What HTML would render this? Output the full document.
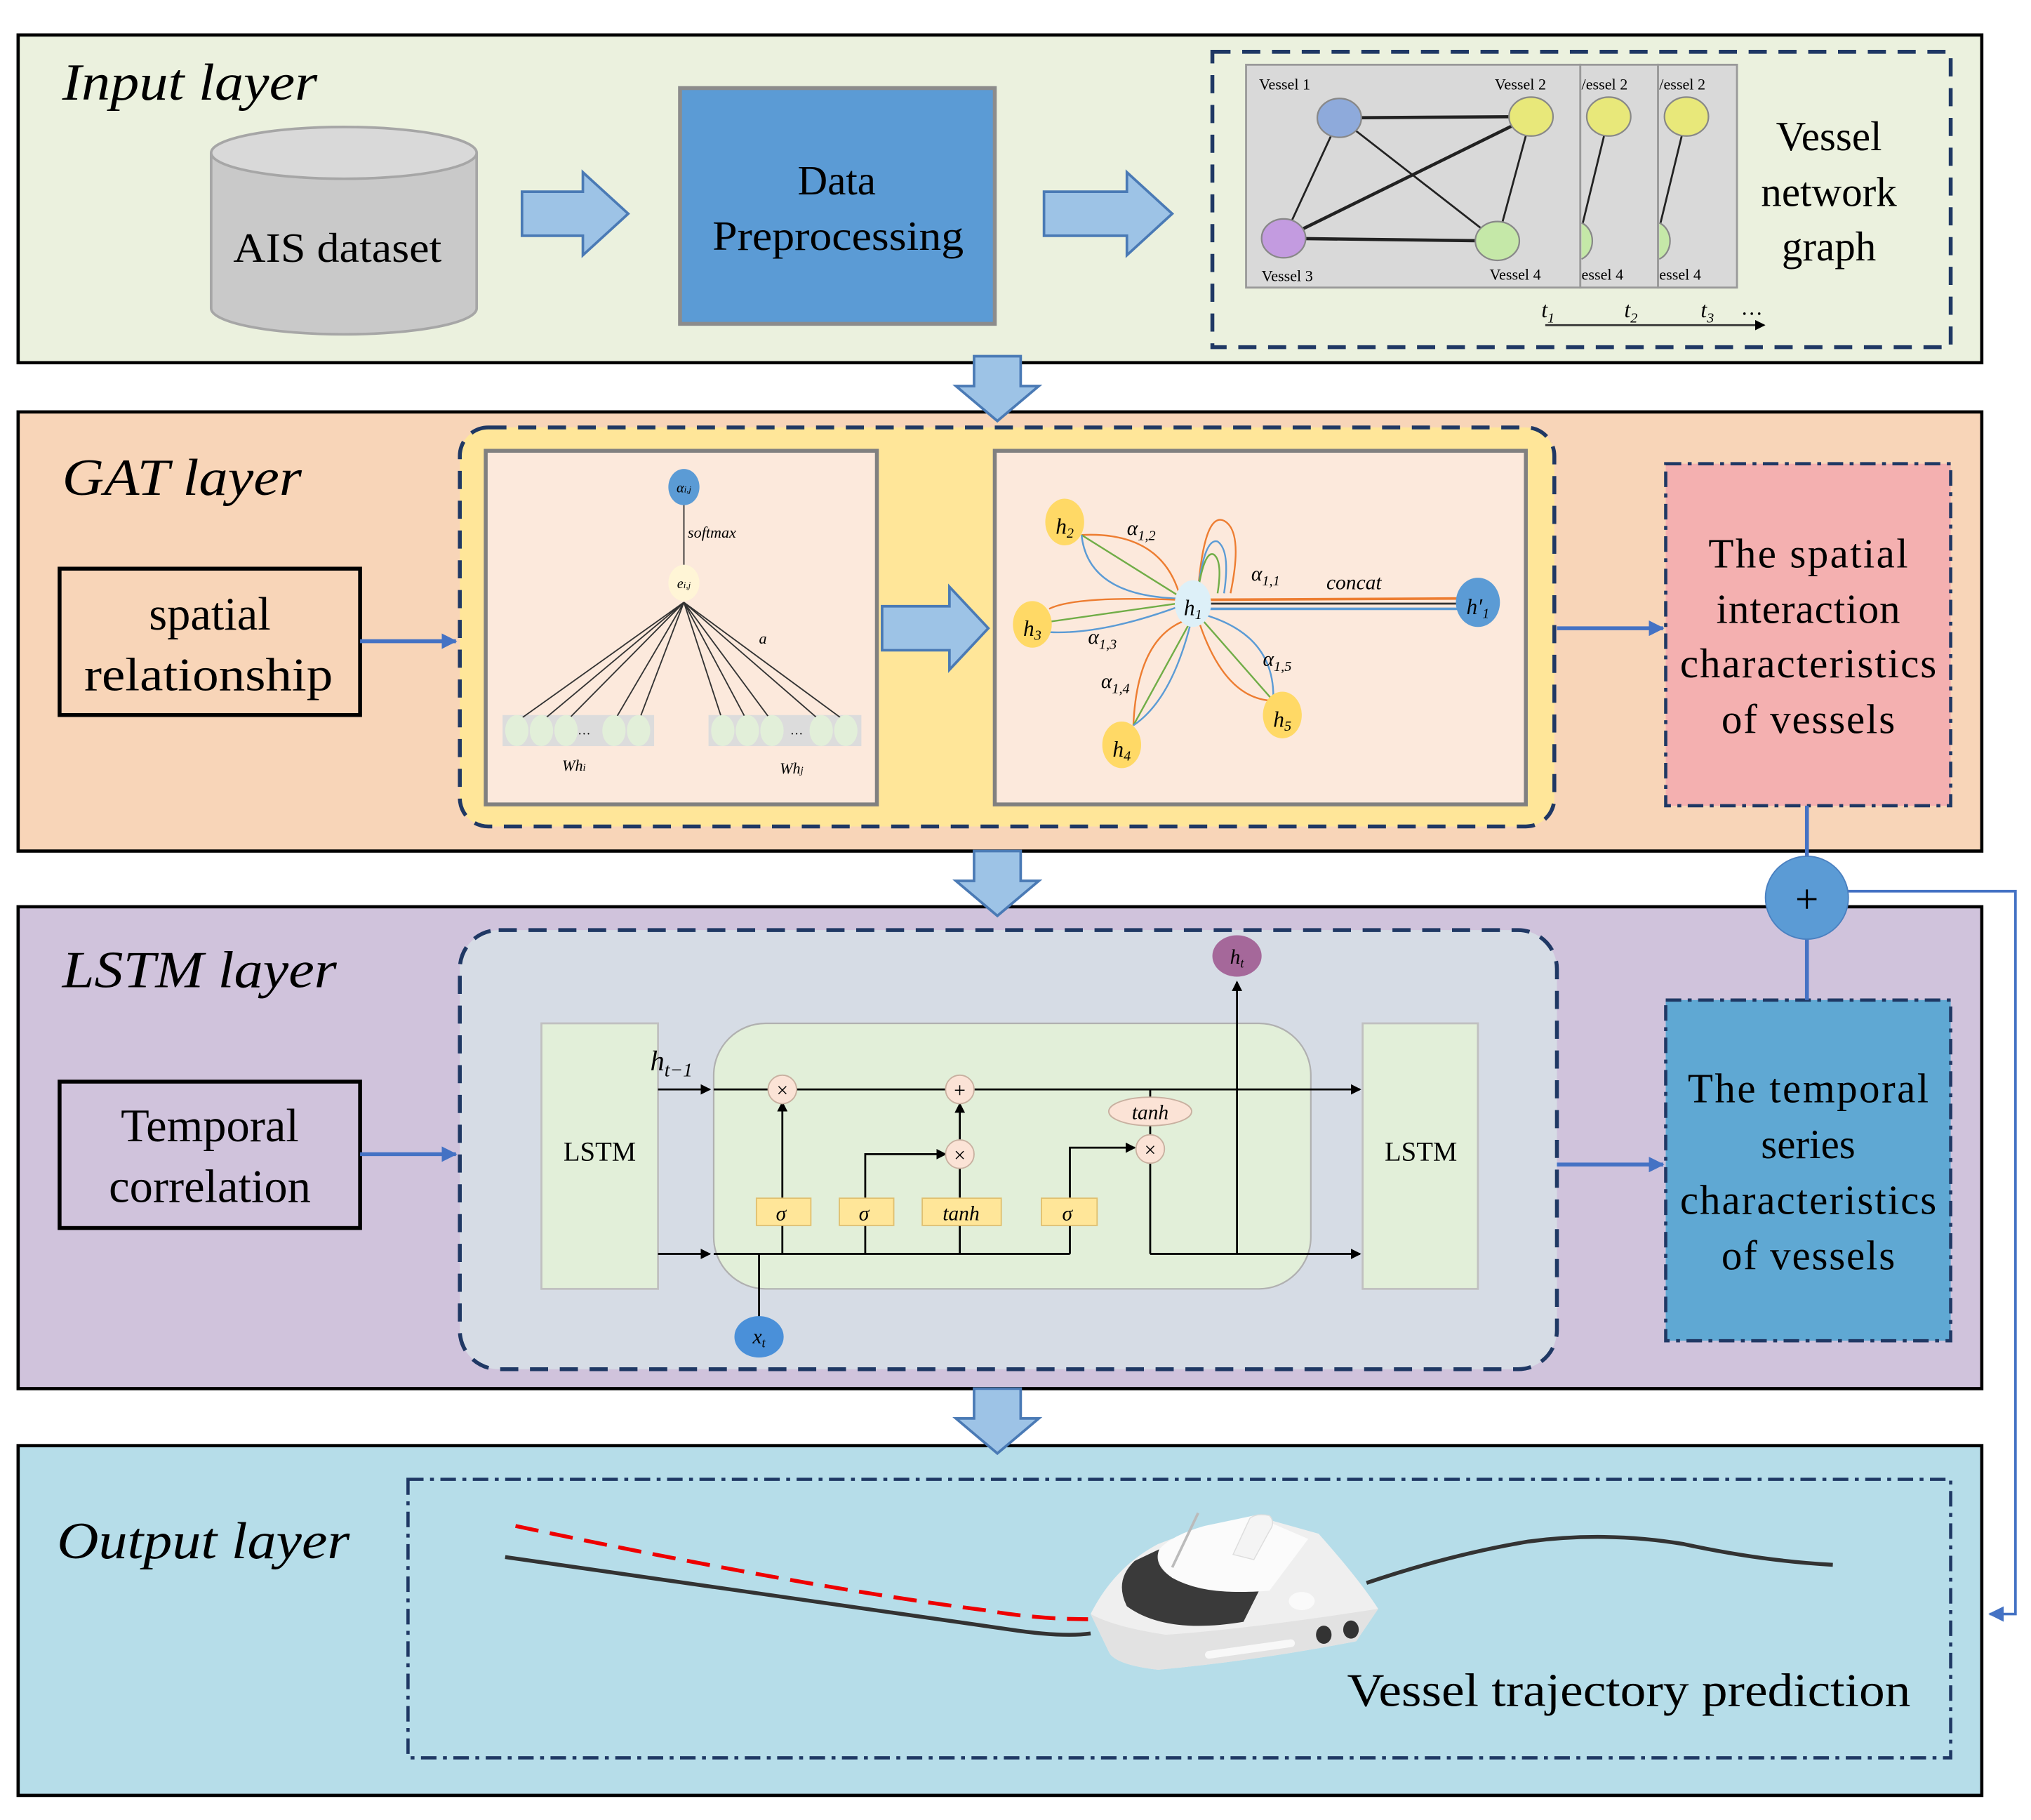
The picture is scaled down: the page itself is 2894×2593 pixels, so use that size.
<!DOCTYPE html>
<html><head><meta charset="utf-8"><style>
html,body{margin:0;padding:0;background:#fff;}
svg{display:block;}
text{font-family:"Liberation Serif",serif;fill:#000;}
.it{font-style:italic;}
</style></head><body>
<svg width="2894" height="2593" viewBox="0 0 1568 1405" preserveAspectRatio="none" xmlns="http://www.w3.org/2000/svg">
<defs>
<marker id="ah" markerWidth="8" markerHeight="8" refX="7" refY="4" orient="auto" markerUnits="userSpaceOnUse"><path d="M0,0 L8,4 L0,8 z" fill="#000"/></marker>
<marker id="ahb" markerWidth="12" markerHeight="12" refX="11" refY="6" orient="auto" markerUnits="userSpaceOnUse"><path d="M0,0 L12,6 L0,12 z" fill="#4472c4"/></marker>
</defs>
<rect width="1568" height="1405" fill="#fff"/>

<!-- INPUT LAYER -->
<rect x="14" y="27" width="1516" height="253" fill="#ebf1de" stroke="#000" stroke-width="2.5"/>
<text x="48" y="77" font-size="40" class="it" textLength="197" lengthAdjust="spacingAndGlyphs">Input layer</text>
<path d="M163,118 L163,238 A102,20 0 0 0 368,238 L368,118" fill="#c9c9c9" stroke="#a6a6a6" stroke-width="2"/>
<ellipse cx="265.5" cy="118" rx="102.5" ry="20" fill="#d9d9d9" stroke="#a6a6a6" stroke-width="2"/>
<text x="180" y="202" font-size="32" textLength="161" lengthAdjust="spacingAndGlyphs">AIS dataset</text>
<path d="M403,148 L450,148 L450,133 L485,165 L450,197 L450,182 L403,182 Z" fill="#9dc3e6" stroke="#4a7ab5" stroke-width="2"/>
<rect x="525" y="68" width="243" height="182" fill="#5b9bd5" stroke="#8c8c8c" stroke-width="3"/>
<text x="646" y="150" font-size="32" text-anchor="middle">Data</text>
<text x="550" y="193" font-size="32" textLength="194" lengthAdjust="spacingAndGlyphs">Preprocessing</text>
<path d="M806,148 L870,148 L870,133 L905,165 L870,197 L870,182 L806,182 Z" fill="#9dc3e6" stroke="#4a7ab5" stroke-width="2"/>
<rect x="936" y="40" width="570" height="228" fill="none" stroke="#1f3864" stroke-width="3" stroke-dasharray="14,9"/>
<rect x="1280" y="50" width="61" height="172" fill="#d9d9d9" stroke="#999" stroke-width="1.5"/>
<rect x="1220" y="50" width="60" height="172" fill="#d9d9d9" stroke="#999" stroke-width="1.5"/>
<rect x="962" y="50" width="258" height="172" fill="#d9d9d9" stroke="#999" stroke-width="1.5"/>
<g stroke="#222" stroke-width="1.5">
<line x1="1034" y1="91" x2="1182" y2="90" stroke-width="2.5"/>
<line x1="1034" y1="91" x2="991" y2="184"/>
<line x1="1034" y1="91" x2="1156" y2="186"/>
<line x1="991" y1="184" x2="1182" y2="90" stroke-width="2.5"/>
<line x1="1182" y1="90" x2="1156" y2="186"/>
<line x1="991" y1="184" x2="1156" y2="186" stroke-width="2.5"/>
<line x1="1242" y1="90" x2="1222" y2="172"/>
<line x1="1302" y1="90" x2="1282" y2="172"/>
</g>
<g stroke="#888" stroke-width="1.2">
<ellipse cx="1034" cy="91" rx="17" ry="15" fill="#8eaadb"/>
<ellipse cx="1182" cy="90" rx="17" ry="15" fill="#e8e87a"/>
<ellipse cx="991" cy="184" rx="17" ry="15" fill="#c39be0"/>
<ellipse cx="1156" cy="186" rx="17" ry="15" fill="#c5e8a8"/>
<ellipse cx="1242" cy="90" rx="17" ry="15" fill="#e8e87a"/>
<ellipse cx="1302" cy="90" rx="17" ry="15" fill="#e8e87a"/>
<path d="M1221,172 A13,15 0 0 1 1221,200" fill="#c5e8a8"/>
<path d="M1281,172 A13,15 0 0 1 1281,200" fill="#c5e8a8"/>
</g>
<g font-size="12">
<text x="972" y="69">Vessel 1</text>
<text x="1154" y="69">Vessel 2</text>
<text x="974" y="217">Vessel 3</text>
<text x="1150" y="216">Vessel 4</text>
<text x="1221" y="69">/essel 2</text>
<text x="1281" y="69">/essel 2</text>
<text x="1221" y="216">essel 4</text>
<text x="1281" y="216">essel 4</text>
</g>
<g font-size="32" text-anchor="middle">
<text x="1412" y="116">Vessel</text>
<text x="1412" y="159">network</text>
<text x="1412" y="201">graph</text>
</g>
<g font-size="17" class="it">
<text x="1190" y="245">t<tspan font-size="11" dy="4">1</tspan></text>
<text x="1254" y="245">t<tspan font-size="11" dy="4">2</tspan></text>
<text x="1313" y="245">t<tspan font-size="11" dy="4">3</tspan></text>
<text x="1344" y="243" font-style="normal">…</text>
</g>
<line x1="1193" y1="251" x2="1362" y2="251" stroke="#333" stroke-width="1.5" marker-end="url(#ah)"/>

<!-- GAT LAYER -->
<rect x="14" y="318" width="1516" height="339" fill="#f8d5b8" stroke="#000" stroke-width="2.5"/>
<text x="48" y="382" font-size="40" class="it" textLength="185" lengthAdjust="spacingAndGlyphs">GAT layer</text>
<rect x="46" y="439" width="232" height="113" fill="none" stroke="#000" stroke-width="3"/>
<text x="162" y="486" font-size="36" text-anchor="middle">spatial</text>
<text x="65" y="533" font-size="36" textLength="192" lengthAdjust="spacingAndGlyphs">relationship</text>
<line x1="278" y1="495" x2="352" y2="495" stroke="#4472c4" stroke-width="3" marker-end="url(#ahb)"/>
<rect x="355" y="330" width="845" height="308" rx="22" fill="#ffe699" stroke="#1f3864" stroke-width="3" stroke-dasharray="14,9"/>
<rect x="375" y="348" width="302" height="273" fill="#fce9dc" stroke="#808080" stroke-width="3"/>
<rect x="768" y="348" width="410" height="273" fill="#fce9dc" stroke="#808080" stroke-width="3"/>
<path d="M681,468 L733,468 L733,453 L763,485 L733,517 L733,502 L681,502 Z" fill="#9dc3e6" stroke="#4a7ab5" stroke-width="2"/>
<rect x="388" y="552" width="117" height="24" fill="#dcdcdc"/>
<rect x="547" y="552" width="118" height="24" fill="#dcdcdc"/>
<g stroke="#333" stroke-width="1">
<line x1="528" y1="388" x2="528" y2="438"/>
<line x1="528" y1="465" x2="399" y2="557"/><line x1="528" y1="465" x2="418" y2="557"/><line x1="528" y1="465" x2="437" y2="557"/>
<line x1="528" y1="465" x2="474" y2="557"/><line x1="528" y1="465" x2="493" y2="557"/>
<line x1="528" y1="465" x2="558" y2="557"/><line x1="528" y1="465" x2="577" y2="557"/><line x1="528" y1="465" x2="596" y2="557"/>
<line x1="528" y1="465" x2="634" y2="557"/><line x1="528" y1="465" x2="653" y2="557"/>
</g>
<g fill="#e2efd9">
<ellipse cx="399" cy="564" rx="9" ry="12"/><ellipse cx="418" cy="564" rx="9" ry="12"/><ellipse cx="437" cy="564" rx="9" ry="12"/>
<ellipse cx="474" cy="564" rx="9" ry="12"/><ellipse cx="493" cy="564" rx="9" ry="12"/>
<ellipse cx="558" cy="564" rx="9" ry="12"/><ellipse cx="577" cy="564" rx="9" ry="12"/><ellipse cx="596" cy="564" rx="9" ry="12"/>
<ellipse cx="634" cy="564" rx="9" ry="12"/><ellipse cx="653" cy="564" rx="9" ry="12"/>
</g>
<text x="451" y="567" font-size="10" text-anchor="middle">…</text>
<text x="615" y="567" font-size="10" text-anchor="middle">…</text>
<ellipse cx="528" cy="376" rx="12" ry="14" fill="#5b9bd5"/>
<text x="528" y="380" font-size="11" class="it" text-anchor="middle">α<tspan font-size="7">i,j</tspan></text>
<ellipse cx="528" cy="450" rx="12" ry="14" fill="#fff5d6"/>
<text x="528" y="454" font-size="11" class="it" text-anchor="middle">e<tspan font-size="7">i,j</tspan></text>
<text x="531" y="415" font-size="12" class="it">softmax</text>
<text x="586" y="497" font-size="12" class="it">a</text>
<text x="434" y="595" font-size="12" class="it">Wh<tspan font-size="8">i</tspan></text>
<text x="602" y="597" font-size="12" class="it">Wh<tspan font-size="8">j</tspan></text>
<g fill="none" stroke-width="1.3">
<path d="M835,413 Q895,410 910,457" stroke="#ed7d31"/>
<path d="M835,413 L910,460" stroke="#70ad47"/>
<path d="M835,413 Q840,460 910,462" stroke="#5b9bd5"/>
<path d="M810,470 Q830,460 908,463" stroke="#ed7d31"/>
<path d="M810,480 L908,466" stroke="#70ad47"/>
<path d="M810,488 Q850,490 908,469" stroke="#5b9bd5"/>
<path d="M925,455 Q930,395 945,402 Q960,410 950,458" stroke="#ed7d31"/>
<path d="M925,455 Q930,415 940,418 Q950,425 945,458" stroke="#5b9bd5"/>
<path d="M925,455 Q930,425 937,428 Q944,433 940,458" stroke="#70ad47"/>
<path d="M932,463 L1130,462" stroke="#ed7d31" stroke-width="2"/>
<path d="M932,466 L1130,466" stroke="#333" stroke-width="1.5"/>
<path d="M932,470 L1130,470" stroke="#5b9bd5" stroke-width="2"/>
<path d="M875,560 Q878,490 918,478" stroke="#ed7d31"/>
<path d="M875,560 L920,478" stroke="#70ad47"/>
<path d="M875,560 Q905,540 920,478" stroke="#5b9bd5"/>
<path d="M983,541 Q945,540 925,478" stroke="#ed7d31"/>
<path d="M983,541 L926,476" stroke="#70ad47"/>
<path d="M983,541 Q985,490 928,474" stroke="#5b9bd5"/>
</g>
<ellipse cx="822" cy="403" rx="15" ry="18" fill="#ffd966"/>
<ellipse cx="797" cy="482" rx="15" ry="18" fill="#ffd966"/>
<ellipse cx="866" cy="575" rx="15" ry="18" fill="#ffd966"/>
<ellipse cx="990" cy="552" rx="15" ry="18" fill="#ffd966"/>
<ellipse cx="921" cy="466" rx="14" ry="18" fill="#ddf0f8"/>
<ellipse cx="1141" cy="465" rx="17" ry="19" fill="#5b9bd5"/>
<g font-size="17" class="it" text-anchor="middle">
<text x="822" y="412">h<tspan font-size="11" dy="3">2</tspan></text>
<text x="797" y="491">h<tspan font-size="11" dy="3">3</tspan></text>
<text x="866" y="584">h<tspan font-size="11" dy="3">4</tspan></text>
<text x="990" y="561">h<tspan font-size="11" dy="3">5</tspan></text>
<text x="921" y="475">h<tspan font-size="11" dy="3">1</tspan></text>
<text x="1141" y="474">h′<tspan font-size="11" dy="3">1</tspan></text>
</g>
<g font-size="16" class="it">
<text x="870" y="413">α<tspan font-size="11" dy="4">1,2</tspan></text>
<text x="966" y="448">α<tspan font-size="11" dy="4">1,1</tspan></text>
<text x="840" y="497">α<tspan font-size="11" dy="4">1,3</tspan></text>
<text x="850" y="531">α<tspan font-size="11" dy="4">1,4</tspan></text>
<text x="975" y="514">α<tspan font-size="11" dy="4">1,5</tspan></text>
<text x="1024" y="455">concat</text>
</g>
<line x1="1202" y1="485" x2="1284" y2="485" stroke="#4472c4" stroke-width="3" marker-end="url(#ahb)"/>
<rect x="1286" y="358" width="220" height="264" fill="#f4b0b0" stroke="#1f3864" stroke-width="2.5" stroke-dasharray="12,5,3,5"/>
<g font-size="32" text-anchor="middle" lengthAdjust="spacingAndGlyphs">
<text x="1396" y="438" textLength="154">The spatial</text>
<text x="1396" y="481" textLength="142">interaction</text>
<text x="1396" y="523" textLength="198">characteristics</text>
<text x="1396" y="566" textLength="134">of vessels</text>
</g>

<!-- LSTM LAYER -->
<rect x="14" y="700" width="1516" height="372" fill="#d0c3dc" stroke="#000" stroke-width="2.5"/>
<text x="48" y="762" font-size="40" class="it" textLength="212" lengthAdjust="spacingAndGlyphs">LSTM layer</text>
<rect x="46" y="835" width="232" height="113" fill="none" stroke="#000" stroke-width="3"/>
<text x="162" y="881" font-size="36" text-anchor="middle">Temporal</text>
<text x="162" y="928" font-size="36" text-anchor="middle">correlation</text>
<line x1="278" y1="891" x2="352" y2="891" stroke="#4472c4" stroke-width="3" marker-end="url(#ahb)"/>
<rect x="355" y="718" width="847" height="339" rx="30" fill="#d6dce5" stroke="#1f3864" stroke-width="3" stroke-dasharray="14,9"/>
<rect x="418" y="790" width="90" height="205" fill="#e2efd9" stroke="#c0c0c0" stroke-width="1.5"/>
<rect x="1052" y="790" width="89" height="205" fill="#e2efd9" stroke="#c0c0c0" stroke-width="1.5"/>
<rect x="551" y="790" width="461" height="205" rx="40" fill="#e2efd9" stroke="#b0b0b0" stroke-width="1.2"/>
<text x="463" y="896" font-size="21" text-anchor="middle">LSTM</text>
<text x="1097" y="896" font-size="21" text-anchor="middle">LSTM</text>
<g stroke="#000" stroke-width="1.5" fill="none">
<line x1="508" y1="841" x2="548" y2="841" marker-end="url(#ah)"/>
<line x1="508" y1="968" x2="548" y2="968" marker-end="url(#ah)"/>
<line x1="551" y1="841" x2="1050" y2="841" marker-end="url(#ah)"/>
<line x1="551" y1="968" x2="826" y2="968"/>
<line x1="888" y1="968" x2="1050" y2="968" marker-end="url(#ah)"/>
<line x1="604" y1="968" x2="604" y2="851" marker-end="url(#ah)"/>
<polyline points="668,968 668,891 730,891" marker-end="url(#ah)"/>
<line x1="741" y1="968" x2="741" y2="946"/>
<line x1="741" y1="925" x2="741" y2="902"/>
<line x1="741" y1="880" x2="741" y2="852" marker-end="url(#ah)"/>
<polyline points="826,968 826,946"/>
<polyline points="826,925 826,886 876,886" marker-end="url(#ah)"/>
<line x1="888" y1="841" x2="888" y2="876"/>
<line x1="888" y1="898" x2="888" y2="968"/>
<line x1="955" y1="968" x2="955" y2="758" marker-end="url(#ah)"/>
<line x1="586" y1="968" x2="586" y2="1018"/>
</g>
<g fill="#ffe699" stroke="#e0c070" stroke-width="1">
<rect x="584" y="925" width="42" height="21"/>
<rect x="648" y="925" width="42" height="21"/>
<rect x="712" y="925" width="61" height="21"/>
<rect x="804" y="925" width="43" height="21"/>
</g>
<g font-size="16" class="it" text-anchor="middle">
<text x="603" y="942">σ</text><text x="667" y="942">σ</text><text x="742" y="942">tanh</text><text x="824" y="942">σ</text>
</g>
<g fill="#fbe3d6" stroke="#c8b0a0" stroke-width="1">
<circle cx="604" cy="841" r="11"/>
<circle cx="741" cy="841" r="11"/>
<circle cx="741" cy="891" r="11"/>
<circle cx="888" cy="887" r="11"/>
<ellipse cx="888" cy="858" rx="32" ry="11"/>
</g>
<g font-size="16" text-anchor="middle">
<text x="604" y="847">×</text><text x="741" y="847">+</text><text x="741" y="897">×</text><text x="888" y="893">×</text>
<text x="888" y="864" class="it">tanh</text>
</g>
<text x="502" y="826" font-size="22" class="it">h<tspan font-size="15" dy="5">t−1</tspan></text>
<ellipse cx="955" cy="738" rx="19" ry="16" fill="#a5689a"/>
<text x="955" y="744" font-size="16" class="it" text-anchor="middle">h<tspan font-size="10" dy="3">t</tspan></text>
<ellipse cx="586" cy="1032" rx="19" ry="16" fill="#4a90d9"/>
<text x="586" y="1037" font-size="16" class="it" text-anchor="middle">x<tspan font-size="10" dy="3">t</tspan></text>
<line x1="1202" y1="899" x2="1284" y2="899" stroke="#4472c4" stroke-width="3" marker-end="url(#ahb)"/>
<rect x="1286" y="772" width="220" height="263" fill="#5fa8d3" stroke="#1f3864" stroke-width="2.5" stroke-dasharray="12,5,3,5"/>
<g font-size="32" text-anchor="middle" lengthAdjust="spacingAndGlyphs">
<text x="1396" y="851" textLength="186">The temporal</text>
<text x="1396" y="894">series</text>
<text x="1396" y="937" textLength="198">characteristics</text>
<text x="1396" y="980" textLength="134">of vessels</text>
</g>

<line x1="1395" y1="622" x2="1395" y2="772" stroke="#4472c4" stroke-width="3"/>
<polyline points="1420,688 1556,688 1556,1246 1536,1246" fill="none" stroke="#4472c4" stroke-width="2" marker-end="url(#ahb)"/>
<circle cx="1395" cy="693" r="32" fill="#5b9bd5" stroke="#4a80c0" stroke-width="1"/>
<text x="1395" y="705" font-size="32" text-anchor="middle" font-family="Liberation Sans">+</text>

<!-- OUTPUT LAYER -->
<rect x="14" y="1116" width="1516" height="270" fill="#b6dde9" stroke="#000" stroke-width="2.5"/>
<text x="44" y="1203" font-size="40" class="it" textLength="226" lengthAdjust="spacingAndGlyphs">Output layer</text>
<rect x="315" y="1142" width="1191" height="215" fill="none" stroke="#1f3864" stroke-width="2.5" stroke-dasharray="12,5,3,5"/>
<path d="M398,1178 Q620,1225 760,1243 Q800,1250 840,1250" fill="none" stroke="#e00" stroke-width="3" stroke-dasharray="18,9"/>
<path d="M390,1202 Q620,1235 780,1258 Q820,1264 842,1261" fill="none" stroke="#333" stroke-width="3"/>
<path d="M1055,1222 Q1120,1200 1180,1190 Q1240,1182 1300,1192 Q1360,1205 1415,1208" fill="none" stroke="#333" stroke-width="3"/>
<path d="M842,1246 Q860,1210 894,1192 Q930,1178 968,1170 L1018,1184 Q1050,1220 1064,1242 L1047,1267 Q970,1282 894,1289 Q860,1285 856,1275 Z" fill="#efefef"/>
<path d="M842,1246 L856,1275 Q860,1285 894,1289 Q970,1282 1047,1267 L1064,1242 Q960,1258 900,1262 Q860,1256 842,1246 Z" fill="#e2e2e2"/>
<path d="M876,1205 Q860,1220 870,1240 Q900,1262 960,1252 L972,1228 Q930,1232 905,1218 Q890,1208 895,1196 Z" fill="#3a3a3a"/>
<path d="M895,1196 Q905,1185 930,1178 L968,1170 L1010,1188 L980,1228 Q930,1232 905,1218 Q892,1208 895,1196 Z" fill="#fbfbfb"/>
<path d="M952,1200 L965,1172 Q970,1168 980,1170 Q985,1175 980,1182 L968,1204 Z" fill="#f4f4f4" stroke="#ddd" stroke-width="0.8"/>
<ellipse cx="1005" cy="1236" rx="10" ry="7" fill="#fafafa"/>
<rect x="930" y="1270" width="70" height="6" rx="3" fill="#f8f8f8" transform="rotate(-8 965 1273)"/>
<ellipse cx="1022" cy="1262" rx="6" ry="7" fill="#333"/>
<ellipse cx="1043" cy="1258" rx="6" ry="7" fill="#333"/>
<line x1="905" y1="1210" x2="925" y2="1168" stroke="#bbb" stroke-width="2"/>
<text x="1040" y="1317" font-size="36" textLength="435" lengthAdjust="spacingAndGlyphs">Vessel trajectory prediction</text>

<g fill="#9dc3e6" stroke="#4a7ab5" stroke-width="2">
<path d="M752,275 L788,275 L788,298 L802,298 L770,325 L738,298 L752,298 Z"/>
<path d="M752,657 L788,657 L788,680 L802,680 L770,707 L738,680 L752,680 Z"/>
<path d="M752,1072 L788,1072 L788,1095 L802,1095 L770,1122 L738,1095 L752,1095 Z"/>
</g>
</svg>
</body></html>
